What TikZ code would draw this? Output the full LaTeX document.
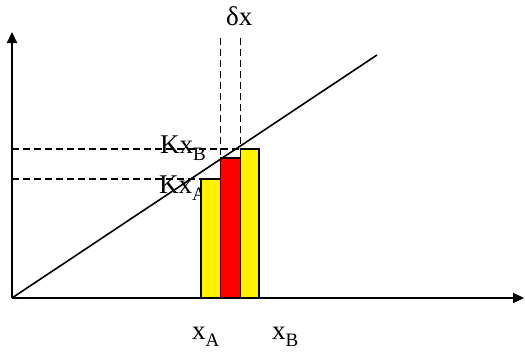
\documentclass[tikz,border=0pt]{standalone}
\usepackage{fontspec}
\setmainfont{Liberation Serif}
\usetikzlibrary{arrows.meta}
\newcommand{\lowsub}[1]{\raisebox{-0.28em}{\fontsize{19}{21}\selectfont #1}}
\begin{document}
\begin{tikzpicture}[x=1pt,y=-1pt,
  axis/.style={line width=2.2pt,-{Triangle[length=11pt,width=10pt]}},
  guide/.style={line width=1.9pt,dash pattern=on 7pt off 4pt},
  bar/.style={draw=black,line width=1.8pt},
  lbl/.style={inner sep=0pt,anchor=base west,font=\fontsize{27}{31}\selectfont}]
\useasboundingbox (0,0) rectangle (525,351);
% key points
\coordinate (O) at (12,298);
\coordinate (Ytip) at (12,32);
\coordinate (Xtip) at (524,298);
\coordinate (Lend) at (377,55);
\coordinate (V1top) at (220.5,38);
\coordinate (V1bot) at (220.5,298);
\coordinate (V2top) at (240.5,38);
\coordinate (V2bot) at (240.5,298);
\coordinate (H1a) at (12,149);
\coordinate (H1b) at (240,149);
\coordinate (H2a) at (12,179);
\coordinate (H2b) at (201,179);
% guides
\draw[guide] (H1a) -- (H1b);
\draw[guide] (H2a) -- (H2b);
\draw[guide] (V1top) -- (V1bot);
% labels
\node[lbl] (dx) at (226,25) {δx};
\node[lbl] (kxb) at (160,153) {Kx\lowsub{B}};
\node[lbl] (kxa) at (159,193) {Kx\lowsub{A}};
\node[lbl] (xa) at (192,339) {x\lowsub{A}};
\node[lbl] (xb) at (272,339) {x\lowsub{B}};
% bars
\draw[bar,fill=yellow] (201,298) rectangle (220.5,179);
\draw[bar,fill=red] (220.5,298) rectangle (240.5,158);
\draw[bar,fill=yellow] (240.5,298) rectangle (259,149);
\draw[guide] (V2top) -- (V2bot);
% line and axes
\draw[line width=1.6pt] (O) -- (Lend);
\draw[axis] (O) -- (Ytip);
\draw[axis] (O) -- (Xtip);
\end{tikzpicture}
\end{document}
